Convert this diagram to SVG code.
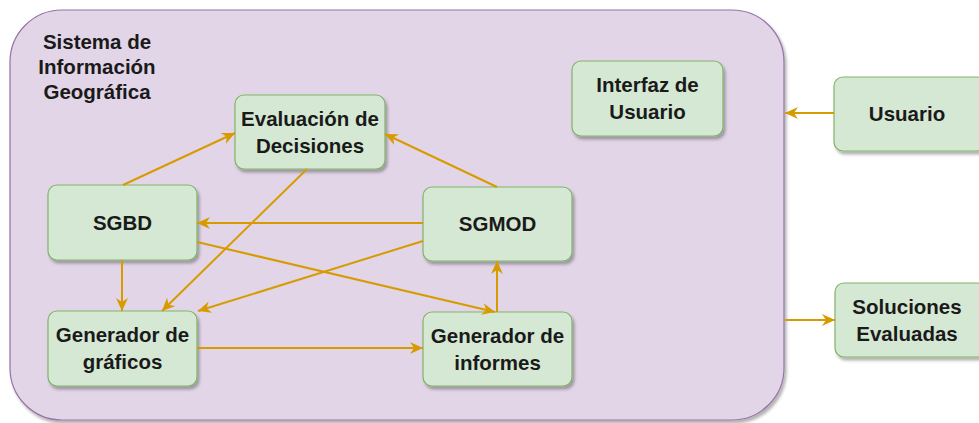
<svg xmlns="http://www.w3.org/2000/svg" width="979" height="423" viewBox="0 0 979 423">
<style>
.node{fill:#d5e8d4;stroke:#82b366;stroke-width:1.2}
.cont{fill:#e1d5e7;stroke:#9673a6;stroke-width:1.2}
.t{font-family:"Liberation Sans",Arial,sans-serif;font-weight:bold;font-size:20.5px;fill:#1a1a1a;text-anchor:middle}
.c{fill:none;stroke:#d79b00;stroke-width:2}
</style>
<defs>
<filter id="sh" x="-10%" y="-10%" width="130%" height="130%">
<feDropShadow dx="2" dy="3" stdDeviation="1.5" flood-color="#000" flood-opacity="0.3"/>
</filter>
<marker id="ar" markerUnits="userSpaceOnUse" markerWidth="14" markerHeight="12" viewBox="0 0 14 12" refX="13" refY="6" orient="auto">
<path d="M0,0 L13,6 L0,12 L4,6 z" fill="#d79b00"/>
</marker>
</defs>
<g id="sistema">
<rect class="cont" x="10" y="10" width="774" height="410" rx="52" filter="url(#sh)"/>
<text class="t" x="97" y="49">Sistema de</text>
<text class="t" x="97" y="74">Información</text>
<text class="t" x="97" y="99">Geográfica</text>
</g>
<g id="evaluacion">
<rect class="node" x="235" y="95" width="150" height="74" rx="9" filter="url(#sh)"/>
<text class="t" x="310" y="126">Evaluación de</text>
<text class="t" x="310" y="153">Decisiones</text>
</g>
<g id="interfaz">
<rect class="node" x="572" y="61" width="151" height="75" rx="9" filter="url(#sh)"/>
<text class="t" x="647.5" y="92">Interfaz de</text>
<text class="t" x="647.5" y="119">Usuario</text>
</g>
<g id="sgbd">
<rect class="node" x="48" y="185" width="149" height="75" rx="9" filter="url(#sh)"/>
<text class="t" x="122.5" y="230">SGBD</text>
</g>
<g id="sgmod">
<rect class="node" x="423" y="187" width="149" height="74" rx="9" filter="url(#sh)"/>
<text class="t" x="497.5" y="231">SGMOD</text>
</g>
<g id="graficos">
<rect class="node" x="48" y="311" width="149" height="75" rx="9" filter="url(#sh)"/>
<text class="t" x="122.5" y="342">Generador de</text>
<text class="t" x="122.5" y="369">gráficos</text>
</g>
<g id="informes">
<rect class="node" x="423" y="312" width="149" height="74" rx="9" filter="url(#sh)"/>
<text class="t" x="497.5" y="343">Generador de</text>
<text class="t" x="497.5" y="370">informes</text>
</g>
<g id="usuario">
<rect class="node" x="834" y="77" width="152" height="74" rx="9" filter="url(#sh)"/>
<text class="t" x="907" y="121">Usuario</text>
</g>
<g id="soluciones">
<rect class="node" x="835" y="283" width="152" height="74" rx="9" filter="url(#sh)"/>
<text class="t" x="907" y="314">Soluciones</text>
<text class="t" x="907" y="341">Evaluadas</text>
</g>
<g id="connectors">
<path class="c" d="M123,185 L235,133" marker-end="url(#ar)"/>
<path class="c" d="M497,187 L385,134" marker-end="url(#ar)"/>
<path class="c" d="M423,223 L197,223" marker-end="url(#ar)"/>
<path class="c" d="M423,241 L198,311" marker-end="url(#ar)"/>
<path class="c" d="M197,242 L495,312" marker-end="url(#ar)"/>
<path class="c" d="M307,169 L162,311" marker-end="url(#ar)"/>
<path class="c" d="M122,260 L122,311" marker-end="url(#ar)"/>
<path class="c" d="M197,348 L423,348" marker-end="url(#ar)"/>
<path class="c" d="M497,312 L497,261" marker-end="url(#ar)"/>
<path class="c" d="M834,113 L785,113" marker-end="url(#ar)"/>
<path class="c" d="M785,320 L835,320" marker-end="url(#ar)"/>
</g>
</svg>
